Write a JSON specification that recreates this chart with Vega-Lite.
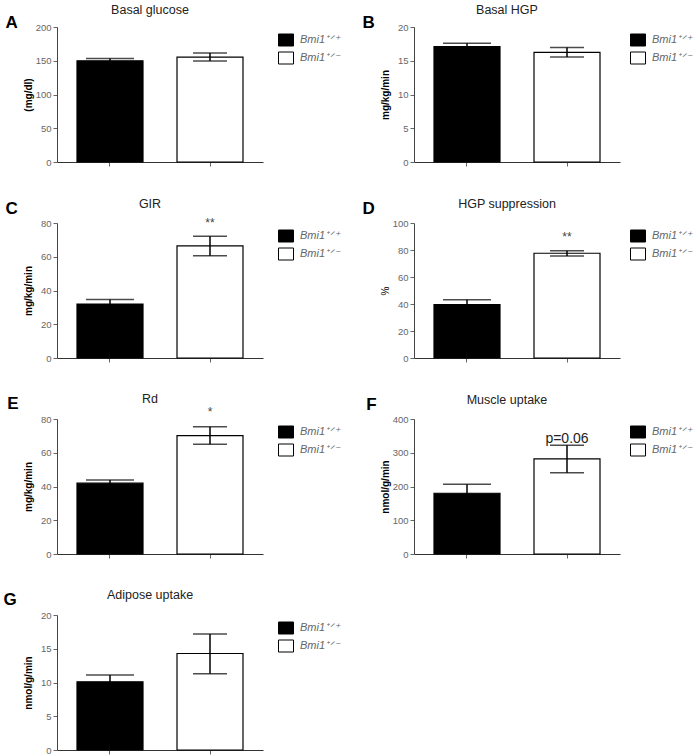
{
  "$schema": "https://vega.github.io/schema/vega-lite/v6.json",
  "padding": {"left": 3, "top": 3, "right": 0, "bottom": 0},
  "background": "white",
  "config": {
    "font": "Liberation Sans",
    "view": {"stroke": null},
    "title": {"font": "Liberation Sans", "fontSize": 12.5, "fontWeight": "normal", "color": "#222", "frame": "group", "dx": -10, "offset": 8},
    "axis": {"grid": false, "domainColor": "#444", "tickColor": "#666", "labelColor": "#666", "labelFontSize": 9.5, "labelFont": "Liberation Sans", "tickSize": 4, "titleFont": "Liberation Sans", "titleFontSize": 10, "titleFontWeight": "bold", "titleColor": "black", "labelPadding": 2},
    "axisY": {"titleX": -24},
    "axisX": {"labels": false, "title": null, "tickSize": 4, "domainColor": "#333"},
    "legend": {"orient": "right", "offset": 10, "padding": 5, "labelFont": "Liberation Sans", "labelFontStyle": "italic", "labelColor": "#666", "labelFontSize": 11, "symbolType": "M-1,-0.8H1V0.8H-1Z", "symbolSize": 225, "symbolStrokeColor": "black", "symbolStrokeWidth": 1, "rowPadding": 2, "labelOffset": 6}
  },
  "datasets": {
    "bars": [
      {"panel": "A", "g": "wt", "genotype": "Bmi1⁺ᐟ⁺", "mean": 150, "lo": 146.5, "hi": 153.5},
      {"panel": "A", "g": "het", "genotype": "Bmi1⁺ᐟ⁻", "mean": 155.5, "lo": 149.5, "hi": 161.5},
      {"panel": "B", "g": "wt", "genotype": "Bmi1⁺ᐟ⁺", "mean": 17.1, "lo": 16.6, "hi": 17.6},
      {"panel": "B", "g": "het", "genotype": "Bmi1⁺ᐟ⁻", "mean": 16.25, "lo": 15.55, "hi": 16.95},
      {"panel": "C", "g": "wt", "genotype": "Bmi1⁺ᐟ⁺", "mean": 32, "lo": 29.3, "hi": 34.7},
      {"panel": "C", "g": "het", "genotype": "Bmi1⁺ᐟ⁻", "mean": 66.4, "lo": 60.6, "hi": 72.2, "note": "**", "ny": 77.6},
      {"panel": "D", "g": "wt", "genotype": "Bmi1⁺ᐟ⁺", "mean": 39.5, "lo": 35.8, "hi": 43.2},
      {"panel": "D", "g": "het", "genotype": "Bmi1⁺ᐟ⁻", "mean": 77.6, "lo": 75.6, "hi": 79.5, "note": "**", "ny": 87},
      {"panel": "E", "g": "wt", "genotype": "Bmi1⁺ᐟ⁺", "mean": 42, "lo": 40.2, "hi": 43.8},
      {"panel": "E", "g": "het", "genotype": "Bmi1⁺ᐟ⁻", "mean": 70.2, "lo": 65, "hi": 75.4, "note": "*", "ny": 82},
      {"panel": "F", "g": "wt", "genotype": "Bmi1⁺ᐟ⁺", "mean": 180, "lo": 153, "hi": 207},
      {"panel": "F", "g": "het", "genotype": "Bmi1⁺ᐟ⁻", "mean": 282, "lo": 241, "hi": 322, "note": "p=0.06", "ny": 329},
      {"panel": "G", "g": "wt", "genotype": "Bmi1⁺ᐟ⁺", "mean": 10.1, "lo": 9.1, "hi": 11.1},
      {"panel": "G", "g": "het", "genotype": "Bmi1⁺ᐟ⁻", "mean": 14.3, "lo": 11.3, "hi": 17.2}
    ]
  },
  "columns": 2,
  "spacing": {"row": 30, "column": 16},
  "resolve": {"scale": {"fill": "independent"}},
  "concat": [
    {
      "title": {"text": "A", "orient": "left", "angle": 0, "anchor": "end", "align": "right", "baseline": "top", "fontSize": 17, "fontWeight": "bold", "color": "black", "offset": -7, "dy": 11, "frame": "bounds", "dx": 0},
      "resolve": {"scale": {"fill": "independent"}},
      "vconcat": [{
        "width": 206, "height": 135,
        "title": {"text": "Basal glucose", "offset": 5.5},
        "data": {"name": "bars"},
        "transform": [{"filter": "datum.panel === 'A'"}],
        "encoding": {"x": {"field": "genotype", "type": "nominal", "sort": null, "scale": {"paddingInner": 0.34, "paddingOuter": 0.2}}},
        "layer": [
          {"mark": {"type": "bar", "stroke": "black", "strokeWidth": 1.2}, "encoding": {"y": {"field": "mean", "type": "quantitative", "title": "(mg/dl)", "scale": {"domain": [0, 200], "nice": false}, "axis": {"values": [0, 50, 100, 150, 200]}}, "fill": {"field": "genotype", "type": "nominal", "sort": null, "scale": {"range": ["black", "white"]}, "legend": {"title": null}}}},
          {"mark": {"type": "rule", "color": "black", "strokeWidth": 1.5}, "encoding": {"y": {"field": "lo", "type": "quantitative", "title": "(mg/dl)", "axis": {"values": [0, 50, 100, 150, 200]}}, "y2": {"field": "hi"}}},
          {"mark": {"type": "tick", "color": "black", "thickness": 1.5}, "encoding": {"y": {"field": "hi", "type": "quantitative", "title": "(mg/dl)", "axis": {"values": [0, 50, 100, 150, 200]}}, "size": {"condition": {"test": "datum.g === 'wt'", "value": 48}, "value": 34}}},
          {"mark": {"type": "tick", "color": "black", "thickness": 1.5}, "encoding": {"y": {"field": "lo", "type": "quantitative", "title": "(mg/dl)", "axis": {"values": [0, 50, 100, 150, 200]}}, "size": {"condition": {"test": "datum.g === 'wt'", "value": 48}, "value": 34}}}
        ]
      }]
    },
    {
      "title": {"text": "B", "orient": "left", "angle": 0, "anchor": "end", "align": "right", "baseline": "top", "fontSize": 17, "fontWeight": "bold", "color": "black", "offset": -7, "dy": 11, "frame": "bounds", "dx": 0},
      "resolve": {"scale": {"fill": "independent"}},
      "vconcat": [{
        "width": 206, "height": 135,
        "title": {"text": "Basal HGP", "offset": 6},
        "data": {"name": "bars"},
        "transform": [{"filter": "datum.panel === 'B'"}],
        "encoding": {"x": {"field": "genotype", "type": "nominal", "sort": null, "scale": {"paddingInner": 0.34, "paddingOuter": 0.2}}},
        "layer": [
          {"mark": {"type": "bar", "stroke": "black", "strokeWidth": 1.2}, "encoding": {"y": {"field": "mean", "type": "quantitative", "title": "mg/kg/min", "scale": {"domain": [0, 20], "nice": false}, "axis": {"values": [0, 5, 10, 15, 20]}}, "fill": {"field": "genotype", "type": "nominal", "sort": null, "scale": {"range": ["black", "white"]}, "legend": {"title": null, "offset": 5}}}},
          {"mark": {"type": "rule", "color": "black", "strokeWidth": 1.5}, "encoding": {"y": {"field": "lo", "type": "quantitative", "title": "mg/kg/min", "axis": {"values": [0, 5, 10, 15, 20]}}, "y2": {"field": "hi"}}},
          {"mark": {"type": "tick", "color": "black", "thickness": 1.5}, "encoding": {"y": {"field": "hi", "type": "quantitative", "title": "mg/kg/min", "axis": {"values": [0, 5, 10, 15, 20]}}, "size": {"condition": {"test": "datum.g === 'wt'", "value": 48}, "value": 34}}},
          {"mark": {"type": "tick", "color": "black", "thickness": 1.5}, "encoding": {"y": {"field": "lo", "type": "quantitative", "title": "mg/kg/min", "axis": {"values": [0, 5, 10, 15, 20]}}, "size": {"condition": {"test": "datum.g === 'wt'", "value": 48}, "value": 34}}}
        ]
      }]
    },
    {
      "title": {"text": "C", "orient": "left", "angle": 0, "anchor": "end", "align": "right", "baseline": "top", "fontSize": 17, "fontWeight": "bold", "color": "black", "offset": -7, "dy": 3, "frame": "bounds", "dx": 0},
      "resolve": {"scale": {"fill": "independent"}},
      "vconcat": [{
        "width": 206, "height": 135,
        "title": {"text": "GIR", "offset": 7},
        "data": {"name": "bars"},
        "transform": [{"filter": "datum.panel === 'C'"}],
        "encoding": {"x": {"field": "genotype", "type": "nominal", "sort": null, "scale": {"paddingInner": 0.34, "paddingOuter": 0.2}}},
        "layer": [
          {"mark": {"type": "bar", "stroke": "black", "strokeWidth": 1.2}, "encoding": {"y": {"field": "mean", "type": "quantitative", "title": "mg/kg/min", "scale": {"domain": [0, 80], "nice": false}, "axis": {"values": [0, 20, 40, 60, 80]}}, "fill": {"field": "genotype", "type": "nominal", "sort": null, "scale": {"range": ["black", "white"]}, "legend": {"title": null}}}},
          {"mark": {"type": "rule", "color": "black", "strokeWidth": 1.5}, "encoding": {"y": {"field": "lo", "type": "quantitative", "title": "mg/kg/min", "axis": {"values": [0, 20, 40, 60, 80]}}, "y2": {"field": "hi"}}},
          {"mark": {"type": "tick", "color": "black", "thickness": 1.5}, "encoding": {"y": {"field": "hi", "type": "quantitative", "title": "mg/kg/min", "axis": {"values": [0, 20, 40, 60, 80]}}, "size": {"condition": {"test": "datum.g === 'wt'", "value": 48}, "value": 34}}},
          {"mark": {"type": "tick", "color": "black", "thickness": 1.5}, "encoding": {"y": {"field": "lo", "type": "quantitative", "title": "mg/kg/min", "axis": {"values": [0, 20, 40, 60, 80]}}, "size": {"condition": {"test": "datum.g === 'wt'", "value": 48}, "value": 34}}},
          {"transform": [{"filter": "datum.note != null"}], "mark": {"type": "text", "baseline": "alphabetic", "fontSize": 12, "color": "#444"}, "encoding": {"y": {"field": "ny", "type": "quantitative", "title": "mg/kg/min", "axis": {"values": [0, 20, 40, 60, 80]}}, "text": {"field": "note"}}}
        ]
      }]
    },
    {
      "title": {"text": "D", "orient": "left", "angle": 0, "anchor": "end", "align": "right", "baseline": "top", "fontSize": 17, "fontWeight": "bold", "color": "black", "offset": -7, "dy": 3, "frame": "bounds", "dx": 0},
      "resolve": {"scale": {"fill": "independent"}},
      "vconcat": [{
        "width": 206, "height": 135,
        "title": {"text": "HGP suppression", "offset": 7.5},
        "data": {"name": "bars"},
        "transform": [{"filter": "datum.panel === 'D'"}],
        "encoding": {"x": {"field": "genotype", "type": "nominal", "sort": null, "scale": {"paddingInner": 0.34, "paddingOuter": 0.2}}},
        "layer": [
          {"mark": {"type": "bar", "stroke": "black", "strokeWidth": 1.2}, "encoding": {"y": {"field": "mean", "type": "quantitative", "title": "%", "scale": {"domain": [0, 100], "nice": false}, "axis": {"values": [0, 20, 40, 60, 80, 100], "titleFontWeight": "normal"}}, "fill": {"field": "genotype", "type": "nominal", "sort": null, "scale": {"range": ["black", "white"]}, "legend": {"title": null, "offset": 5}}}},
          {"mark": {"type": "rule", "color": "black", "strokeWidth": 1.5}, "encoding": {"y": {"field": "lo", "type": "quantitative", "title": "%", "axis": {"values": [0, 20, 40, 60, 80, 100], "titleFontWeight": "normal"}}, "y2": {"field": "hi"}}},
          {"mark": {"type": "tick", "color": "black", "thickness": 1.5}, "encoding": {"y": {"field": "hi", "type": "quantitative", "title": "%", "axis": {"values": [0, 20, 40, 60, 80, 100], "titleFontWeight": "normal"}}, "size": {"condition": {"test": "datum.g === 'wt'", "value": 48}, "value": 34}}},
          {"mark": {"type": "tick", "color": "black", "thickness": 1.5}, "encoding": {"y": {"field": "lo", "type": "quantitative", "title": "%", "axis": {"values": [0, 20, 40, 60, 80, 100], "titleFontWeight": "normal"}}, "size": {"condition": {"test": "datum.g === 'wt'", "value": 48}, "value": 34}}},
          {"transform": [{"filter": "datum.note != null"}], "mark": {"type": "text", "baseline": "alphabetic", "fontSize": 12, "color": "#444"}, "encoding": {"y": {"field": "ny", "type": "quantitative", "title": "%", "axis": {"values": [0, 20, 40, 60, 80, 100], "titleFontWeight": "normal"}}, "text": {"field": "note"}}}
        ]
      }]
    },
    {
      "title": {"text": "E", "orient": "left", "angle": 0, "anchor": "end", "align": "right", "baseline": "top", "fontSize": 17, "fontWeight": "bold", "color": "black", "offset": -7, "dy": 3, "frame": "bounds", "dx": 0},
      "resolve": {"scale": {"fill": "independent"}},
      "vconcat": [{
        "width": 206, "height": 135,
        "title": {"text": "Rd", "offset": 0},
        "data": {"name": "bars"},
        "transform": [{"filter": "datum.panel === 'E'"}],
        "encoding": {"x": {"field": "genotype", "type": "nominal", "sort": null, "scale": {"paddingInner": 0.34, "paddingOuter": 0.2}}},
        "layer": [
          {"mark": {"type": "bar", "stroke": "black", "strokeWidth": 1.2}, "encoding": {"y": {"field": "mean", "type": "quantitative", "title": "mg/kg/min", "scale": {"domain": [0, 80], "nice": false}, "axis": {"values": [0, 20, 40, 60, 80]}}, "fill": {"field": "genotype", "type": "nominal", "sort": null, "scale": {"range": ["black", "white"]}, "legend": {"title": null}}}},
          {"mark": {"type": "rule", "color": "black", "strokeWidth": 1.5}, "encoding": {"y": {"field": "lo", "type": "quantitative", "title": "mg/kg/min", "axis": {"values": [0, 20, 40, 60, 80]}}, "y2": {"field": "hi"}}},
          {"mark": {"type": "tick", "color": "black", "thickness": 1.5}, "encoding": {"y": {"field": "hi", "type": "quantitative", "title": "mg/kg/min", "axis": {"values": [0, 20, 40, 60, 80]}}, "size": {"condition": {"test": "datum.g === 'wt'", "value": 48}, "value": 34}}},
          {"mark": {"type": "tick", "color": "black", "thickness": 1.5}, "encoding": {"y": {"field": "lo", "type": "quantitative", "title": "mg/kg/min", "axis": {"values": [0, 20, 40, 60, 80]}}, "size": {"condition": {"test": "datum.g === 'wt'", "value": 48}, "value": 34}}},
          {"transform": [{"filter": "datum.note != null"}], "mark": {"type": "text", "baseline": "alphabetic", "fontSize": 12, "color": "#444"}, "encoding": {"y": {"field": "ny", "type": "quantitative", "title": "mg/kg/min", "axis": {"values": [0, 20, 40, 60, 80]}}, "text": {"field": "note"}}}
        ]
      }]
    },
    {
      "title": {"text": "F", "orient": "left", "angle": 0, "anchor": "end", "align": "right", "baseline": "top", "fontSize": 17, "fontWeight": "bold", "color": "black", "offset": -7, "dy": 3, "frame": "bounds", "dx": 0},
      "resolve": {"scale": {"fill": "independent"}},
      "vconcat": [{
        "width": 206, "height": 135,
        "title": {"text": "Muscle uptake", "offset": 8},
        "data": {"name": "bars"},
        "transform": [{"filter": "datum.panel === 'F'"}],
        "encoding": {"x": {"field": "genotype", "type": "nominal", "sort": null, "scale": {"paddingInner": 0.34, "paddingOuter": 0.2}}},
        "layer": [
          {"mark": {"type": "bar", "stroke": "black", "strokeWidth": 1.2}, "encoding": {"y": {"field": "mean", "type": "quantitative", "title": "nmol/g/min", "scale": {"domain": [0, 400], "nice": false}, "axis": {"values": [0, 100, 200, 300, 400]}}, "fill": {"field": "genotype", "type": "nominal", "sort": null, "scale": {"range": ["black", "white"]}, "legend": {"title": null, "offset": 5}}}},
          {"mark": {"type": "rule", "color": "black", "strokeWidth": 1.5}, "encoding": {"y": {"field": "lo", "type": "quantitative", "title": "nmol/g/min", "axis": {"values": [0, 100, 200, 300, 400]}}, "y2": {"field": "hi"}}},
          {"mark": {"type": "tick", "color": "black", "thickness": 1.5}, "encoding": {"y": {"field": "hi", "type": "quantitative", "title": "nmol/g/min", "axis": {"values": [0, 100, 200, 300, 400]}}, "size": {"condition": {"test": "datum.g === 'wt'", "value": 48}, "value": 34}}},
          {"mark": {"type": "tick", "color": "black", "thickness": 1.5}, "encoding": {"y": {"field": "lo", "type": "quantitative", "title": "nmol/g/min", "axis": {"values": [0, 100, 200, 300, 400]}}, "size": {"condition": {"test": "datum.g === 'wt'", "value": 48}, "value": 34}}},
          {"transform": [{"filter": "datum.note != null"}], "mark": {"type": "text", "baseline": "alphabetic", "fontSize": 14, "color": "#222"}, "encoding": {"y": {"field": "ny", "type": "quantitative", "title": "nmol/g/min", "axis": {"values": [0, 100, 200, 300, 400]}}, "text": {"field": "note"}}}
        ]
      }]
    },
    {
      "title": {"text": "G", "orient": "left", "angle": 0, "anchor": "end", "align": "right", "baseline": "top", "fontSize": 17, "fontWeight": "bold", "color": "black", "offset": -7, "dy": 3, "frame": "bounds", "dx": 0},
      "resolve": {"scale": {"fill": "independent"}},
      "vconcat": [{
        "width": 206, "height": 135,
        "title": {"text": "Adipose uptake", "offset": 8.5},
        "data": {"name": "bars"},
        "transform": [{"filter": "datum.panel === 'G'"}],
        "encoding": {"x": {"field": "genotype", "type": "nominal", "sort": null, "scale": {"paddingInner": 0.34, "paddingOuter": 0.2}}},
        "layer": [
          {"mark": {"type": "bar", "stroke": "black", "strokeWidth": 1.2}, "encoding": {"y": {"field": "mean", "type": "quantitative", "title": "nmol/g/min", "scale": {"domain": [0, 20], "nice": false}, "axis": {"values": [0, 5, 10, 15, 20]}}, "fill": {"field": "genotype", "type": "nominal", "sort": null, "scale": {"range": ["black", "white"]}, "legend": {"title": null}}}},
          {"mark": {"type": "rule", "color": "black", "strokeWidth": 1.5}, "encoding": {"y": {"field": "lo", "type": "quantitative", "title": "nmol/g/min", "axis": {"values": [0, 5, 10, 15, 20]}}, "y2": {"field": "hi"}}},
          {"mark": {"type": "tick", "color": "black", "thickness": 1.5}, "encoding": {"y": {"field": "hi", "type": "quantitative", "title": "nmol/g/min", "axis": {"values": [0, 5, 10, 15, 20]}}, "size": {"condition": {"test": "datum.g === 'wt'", "value": 48}, "value": 34}}},
          {"mark": {"type": "tick", "color": "black", "thickness": 1.5}, "encoding": {"y": {"field": "lo", "type": "quantitative", "title": "nmol/g/min", "axis": {"values": [0, 5, 10, 15, 20]}}, "size": {"condition": {"test": "datum.g === 'wt'", "value": 48}, "value": 34}}}
        ]
      }]
    }
  ]
}
